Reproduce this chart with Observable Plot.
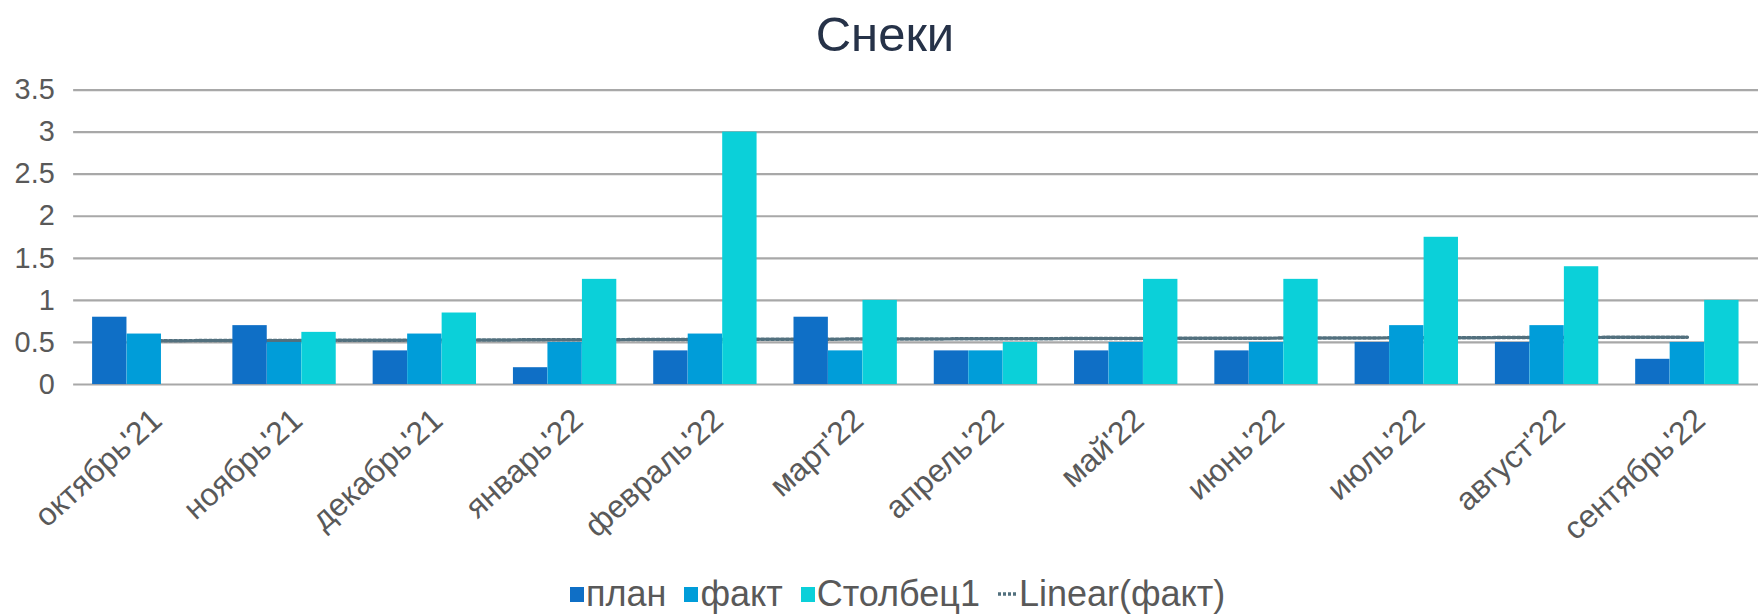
<!DOCTYPE html>
<html>
<head>
<meta charset="utf-8">
<script src="https://cdn.jsdelivr.net/npm/d3@7"></script>
<script src="https://cdn.jsdelivr.net/npm/@observablehq/plot@0.6"></script>
<style>
  html, body { margin: 0; padding: 0; background: #ffffff; overflow: hidden; width: 1758px; height: 616px; }
  #wrap { position: relative; width: 1758px; height: 616px; font-family: "Liberation Sans", Arial, sans-serif; }
  #title { position: absolute; left: 0; top: 6px; width: 1770px; text-align: center; font-size: 49px; color: #263248; line-height: 56px; }
  #chart { position: absolute; left: 0; top: 0; }
  #legend { position: absolute; left: 570px; top: 574px; display: flex; align-items: center; font-size: 36px; color: #595959; line-height: 40px; white-space: nowrap; }
  #legend .sw { display: inline-block; width: 14px; height: 15px; margin-right: 2px; }
  #legend .item { display: flex; align-items: center; margin-right: 18px; }
</style>
</head>
<body>
<div id="wrap">
  <div id="chart"></div>
  <div id="title">Снеки</div>
  <div id="legend"></div>
</div>
<script>
const months = ["октябрь'21","ноябрь'21","декабрь'21","январь'22","февраль'22","март'22","апрель'22","май'22","июнь'22","июль'22","август'22","сентябрь'22"];
const plan    = [0.8, 0.7, 0.4, 0.2, 0.4, 0.8, 0.4, 0.4, 0.4, 0.5, 0.5, 0.3];
const fact    = [0.6, 0.5, 0.6, 0.5, 0.6, 0.4, 0.4, 0.5, 0.5, 0.7, 0.7, 0.5];
const stolbec = [null, 0.62, 0.85, 1.25, 3.0, 1.0, 0.5, 1.25, 1.25, 1.75, 1.4, 1.0];
const yTicks  = [0, 0.5, 1, 1.5, 2, 2.5, 3, 3.5];
const seriesNames = ["план", "факт", "Столбец1"];
const seriesColors = ["#0F6FC6", "#009DD9", "#0BD0D9"];
const trendName = "Linear(факт)";
const trendColor = "#52707e";

// least-squares trendline of "факт" (Excel linear trendline)
const n = fact.length;
const xs = d3.range(1, n + 1);
const mx = d3.mean(xs), my = d3.mean(fact);
const slope = d3.sum(xs, (x, i) => (x - mx) * (fact[i] - my)) / d3.sum(xs, x => (x - mx) ** 2);
const trend = xs.map(x => my + slope * (x - mx));

const W = 1767, H = 600, ML = 73.5, MR = 0, MT = 90, MB = 214;
const bw = (W - ML - MR) / months.length;
const groupW = bw * 0.737, barW = groupW / 3, off = (bw - groupW) / 2;
const idx = d3.range(n);
const series = [plan, fact, stolbec];

const barMarks = series.map((vals, k) => Plot.barY(idx.filter(i => vals[i] != null), {
  x: i => months[i],
  y: i => vals[i],
  fill: seriesColors[k],
  insetLeft: off + k * barW,
  insetRight: bw - off - (k + 1) * barW
}));

const chart = Plot.plot({
  width: W, height: H,
  marginLeft: ML, marginRight: MR, marginTop: MT, marginBottom: MB,
  style: { background: "transparent", fontFamily: "Liberation Sans, Arial, sans-serif", color: "#595959" },
  x: { type: "band", domain: months, padding: 0 },
  y: { domain: [0, 3.5] },
  marks: [
    Plot.gridY(yTicks, { stroke: "#a8a8a8", strokeOpacity: 1, strokeWidth: 2.2 }),
    Plot.line(idx, { x: i => months[i], y: i => trend[i], stroke: trendColor, strokeWidth: 3.5, strokeDasharray: "3 2" }),
    ...barMarks,
    Plot.axisY(yTicks, { tickSize: 0, tickPadding: 19, fontSize: 29, fill: "#595959", tickFormat: d => String(d), label: null }),
    Plot.axisX({ tickSize: 0, tickPadding: 31, tickRotate: -42, fontSize: 32, fill: "#595959", dx: 13, label: null })
  ]
});
document.getElementById("chart").appendChild(chart);

const legend = document.getElementById("legend");
seriesNames.forEach((name, k) => {
  const it = document.createElement("span");
  it.className = "item";
  const sw = document.createElement("span");
  sw.className = "sw";
  sw.style.background = seriesColors[k];
  it.appendChild(sw);
  it.appendChild(document.createTextNode(name));
  legend.appendChild(it);
});
const tr = document.createElement("span");
tr.className = "item";
tr.innerHTML = `<svg width="20" height="10" style="margin-right:1px"><line x1="0" x2="20" y1="5" y2="5" stroke="${trendColor}" stroke-width="3.5" stroke-dasharray="3 2"/></svg>`;
tr.appendChild(document.createTextNode(trendName));
legend.appendChild(tr);
</script>
</body>
</html>
